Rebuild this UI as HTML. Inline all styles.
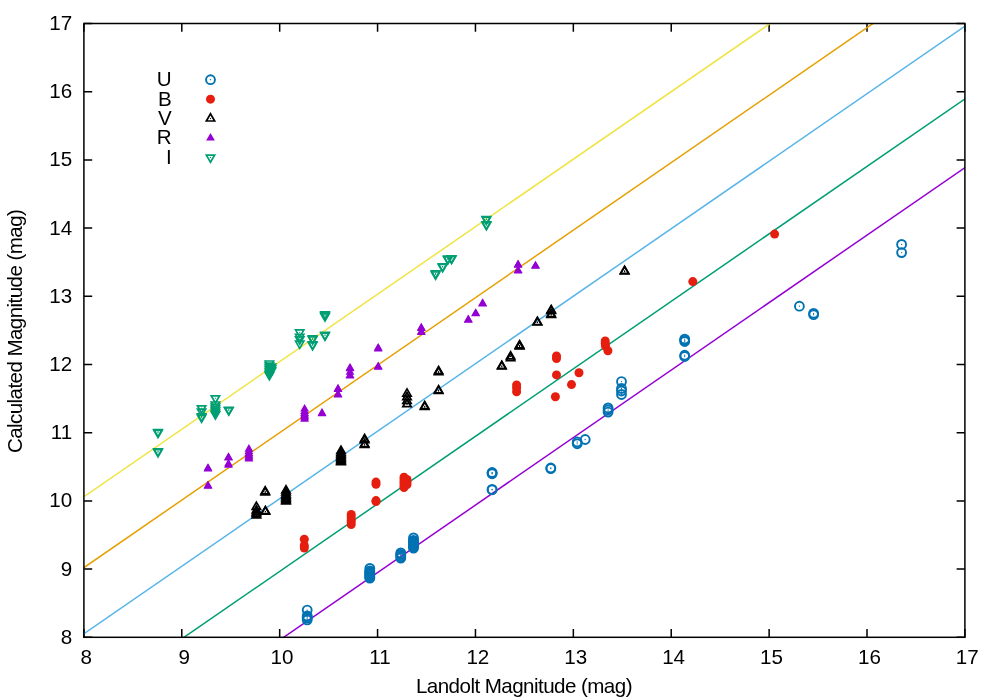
<!DOCTYPE html>
<html><head><meta charset="utf-8"><title>plot</title>
<style>html,body{margin:0;padding:0;background:#fff}svg{display:block}</style></head>
<body>
<svg style="will-change:transform" width="1000" height="700" viewBox="0 0 1000 700">
<rect width="1000" height="700" fill="#fff"/>
<g stroke="#000" stroke-width="1.5" fill="none">
<path d="M83.90,637.3V629.0M83.90,23.5V31.8"/>
<path d="M83.9,637.30H92.2M964.9,637.30H956.6"/>
<path d="M181.79,637.3V629.0M181.79,23.5V31.8"/>
<path d="M83.9,569.10H92.2M964.9,569.10H956.6"/>
<path d="M279.68,637.3V629.0M279.68,23.5V31.8"/>
<path d="M83.9,500.90H92.2M964.9,500.90H956.6"/>
<path d="M377.57,637.3V629.0M377.57,23.5V31.8"/>
<path d="M83.9,432.70H92.2M964.9,432.70H956.6"/>
<path d="M475.46,637.3V629.0M475.46,23.5V31.8"/>
<path d="M83.9,364.50H92.2M964.9,364.50H956.6"/>
<path d="M573.34,637.3V629.0M573.34,23.5V31.8"/>
<path d="M83.9,296.30H92.2M964.9,296.30H956.6"/>
<path d="M671.23,637.3V629.0M671.23,23.5V31.8"/>
<path d="M83.9,228.10H92.2M964.9,228.10H956.6"/>
<path d="M769.12,637.3V629.0M769.12,23.5V31.8"/>
<path d="M83.9,159.90H92.2M964.9,159.90H956.6"/>
<path d="M867.01,637.3V629.0M867.01,23.5V31.8"/>
<path d="M83.9,91.70H92.2M964.9,91.70H956.6"/>
<path d="M964.90,637.3V629.0M964.90,23.5V31.8"/>
<path d="M83.9,23.50H92.2M964.9,23.50H956.6"/>
</g>
<g font-family="Liberation Sans, sans-serif" font-size="20.6px" fill="#000">
<text x="72.2" y="643.70" text-anchor="end">8</text>
<text x="86.30" y="663.6" text-anchor="middle">8</text>
<text x="72.2" y="575.50" text-anchor="end">9</text>
<text x="184.19" y="663.6" text-anchor="middle">9</text>
<text x="72.2" y="507.30" text-anchor="end">10</text>
<text x="282.08" y="663.6" text-anchor="middle">10</text>
<text x="72.2" y="439.10" text-anchor="end">11</text>
<text x="379.97" y="663.6" text-anchor="middle">11</text>
<text x="72.2" y="370.90" text-anchor="end">12</text>
<text x="477.86" y="663.6" text-anchor="middle">12</text>
<text x="72.2" y="302.70" text-anchor="end">13</text>
<text x="575.74" y="663.6" text-anchor="middle">13</text>
<text x="72.2" y="234.50" text-anchor="end">14</text>
<text x="673.63" y="663.6" text-anchor="middle">14</text>
<text x="72.2" y="166.30" text-anchor="end">15</text>
<text x="771.52" y="663.6" text-anchor="middle">15</text>
<text x="72.2" y="98.10" text-anchor="end">16</text>
<text x="869.41" y="663.6" text-anchor="middle">16</text>
<text x="72.2" y="29.90" text-anchor="end">17</text>
<text x="967.30" y="663.6" text-anchor="middle">17</text>
<text x="415.9" y="693.0" textLength="216.6" lengthAdjust="spacing">Landolt Magnitude (mag)</text>
<text transform="translate(21.9,453.1) rotate(-90)" textLength="244.0" lengthAdjust="spacing">Calculated Magnitude (mag)</text>
<text x="171.7" y="86.10" text-anchor="end">U</text>
<text x="171.7" y="105.55" text-anchor="end">B</text>
<text x="171.7" y="125.00" text-anchor="end">V</text>
<text x="171.7" y="144.45" text-anchor="end">R</text>
<text x="171.7" y="163.90" text-anchor="end">I</text>
</g>
<clipPath id="c"><rect x="83.9" y="23.5" width="881.0" height="613.8"/></clipPath>
<g clip-path="url(#c)" stroke-width="1.5" fill="none">
<path d="M78.90,778.51L969.90,164.17" stroke="#9400D3"/>
<path d="M78.90,709.77L969.90,95.42" stroke="#009E73"/>
<path d="M78.90,637.15L969.90,22.80" stroke="#56B4E9"/>
<path d="M78.90,571.05L969.90,-43.30" stroke="#E69F00"/>
<path d="M78.90,500.15L969.90,-114.20" stroke="#F0E442"/>
</g>
<circle cx="210.50" cy="79.70" r="4.45" fill="none" stroke="#0072B2" stroke-width="1.9"/><circle cx="210.50" cy="79.70" r="0.65" fill="#0072B2"/>
<circle cx="307.20" cy="610.10" r="4.45" fill="none" stroke="#0072B2" stroke-width="1.9"/><circle cx="307.20" cy="610.10" r="0.65" fill="#0072B2"/>
<circle cx="307.20" cy="615.90" r="4.45" fill="none" stroke="#0072B2" stroke-width="1.9"/><circle cx="307.20" cy="615.90" r="0.65" fill="#0072B2"/>
<circle cx="307.20" cy="617.00" r="4.45" fill="none" stroke="#0072B2" stroke-width="1.9"/><circle cx="307.20" cy="617.00" r="0.65" fill="#0072B2"/>
<circle cx="307.20" cy="618.20" r="4.45" fill="none" stroke="#0072B2" stroke-width="1.9"/><circle cx="307.20" cy="618.20" r="0.65" fill="#0072B2"/>
<circle cx="307.20" cy="619.90" r="4.45" fill="none" stroke="#0072B2" stroke-width="1.9"/><circle cx="307.20" cy="619.90" r="0.65" fill="#0072B2"/>
<circle cx="369.80" cy="568.40" r="4.45" fill="none" stroke="#0072B2" stroke-width="1.9"/><circle cx="369.80" cy="568.40" r="0.65" fill="#0072B2"/>
<circle cx="369.80" cy="570.80" r="4.45" fill="none" stroke="#0072B2" stroke-width="1.9"/><circle cx="369.80" cy="570.80" r="0.65" fill="#0072B2"/>
<circle cx="369.80" cy="571.70" r="4.45" fill="none" stroke="#0072B2" stroke-width="1.9"/><circle cx="369.80" cy="571.70" r="0.65" fill="#0072B2"/>
<circle cx="369.80" cy="572.70" r="4.45" fill="none" stroke="#0072B2" stroke-width="1.9"/><circle cx="369.80" cy="572.70" r="0.65" fill="#0072B2"/>
<circle cx="369.80" cy="573.90" r="4.45" fill="none" stroke="#0072B2" stroke-width="1.9"/><circle cx="369.80" cy="573.90" r="0.65" fill="#0072B2"/>
<circle cx="369.80" cy="575.10" r="4.45" fill="none" stroke="#0072B2" stroke-width="1.9"/><circle cx="369.80" cy="575.10" r="0.65" fill="#0072B2"/>
<circle cx="369.80" cy="576.30" r="4.45" fill="none" stroke="#0072B2" stroke-width="1.9"/><circle cx="369.80" cy="576.30" r="0.65" fill="#0072B2"/>
<circle cx="369.80" cy="577.40" r="4.45" fill="none" stroke="#0072B2" stroke-width="1.9"/><circle cx="369.80" cy="577.40" r="0.65" fill="#0072B2"/>
<circle cx="369.80" cy="578.10" r="4.45" fill="none" stroke="#0072B2" stroke-width="1.9"/><circle cx="369.80" cy="578.10" r="0.65" fill="#0072B2"/>
<circle cx="400.80" cy="552.90" r="4.45" fill="none" stroke="#0072B2" stroke-width="1.9"/><circle cx="400.80" cy="552.90" r="0.65" fill="#0072B2"/>
<circle cx="400.80" cy="554.30" r="4.45" fill="none" stroke="#0072B2" stroke-width="1.9"/><circle cx="400.80" cy="554.30" r="0.65" fill="#0072B2"/>
<circle cx="400.80" cy="555.50" r="4.45" fill="none" stroke="#0072B2" stroke-width="1.9"/><circle cx="400.80" cy="555.50" r="0.65" fill="#0072B2"/>
<circle cx="400.80" cy="556.80" r="4.45" fill="none" stroke="#0072B2" stroke-width="1.9"/><circle cx="400.80" cy="556.80" r="0.65" fill="#0072B2"/>
<circle cx="400.80" cy="558.10" r="4.45" fill="none" stroke="#0072B2" stroke-width="1.9"/><circle cx="400.80" cy="558.10" r="0.65" fill="#0072B2"/>
<circle cx="413.50" cy="537.90" r="4.45" fill="none" stroke="#0072B2" stroke-width="1.9"/><circle cx="413.50" cy="537.90" r="0.65" fill="#0072B2"/>
<circle cx="413.50" cy="540.30" r="4.45" fill="none" stroke="#0072B2" stroke-width="1.9"/><circle cx="413.50" cy="540.30" r="0.65" fill="#0072B2"/>
<circle cx="413.50" cy="541.20" r="4.45" fill="none" stroke="#0072B2" stroke-width="1.9"/><circle cx="413.50" cy="541.20" r="0.65" fill="#0072B2"/>
<circle cx="413.50" cy="542.20" r="4.45" fill="none" stroke="#0072B2" stroke-width="1.9"/><circle cx="413.50" cy="542.20" r="0.65" fill="#0072B2"/>
<circle cx="413.50" cy="543.40" r="4.45" fill="none" stroke="#0072B2" stroke-width="1.9"/><circle cx="413.50" cy="543.40" r="0.65" fill="#0072B2"/>
<circle cx="413.50" cy="544.60" r="4.45" fill="none" stroke="#0072B2" stroke-width="1.9"/><circle cx="413.50" cy="544.60" r="0.65" fill="#0072B2"/>
<circle cx="413.50" cy="545.80" r="4.45" fill="none" stroke="#0072B2" stroke-width="1.9"/><circle cx="413.50" cy="545.80" r="0.65" fill="#0072B2"/>
<circle cx="413.50" cy="547.00" r="4.45" fill="none" stroke="#0072B2" stroke-width="1.9"/><circle cx="413.50" cy="547.00" r="0.65" fill="#0072B2"/>
<circle cx="413.50" cy="548.10" r="4.45" fill="none" stroke="#0072B2" stroke-width="1.9"/><circle cx="413.50" cy="548.10" r="0.65" fill="#0072B2"/>
<circle cx="492.10" cy="472.45" r="4.45" fill="none" stroke="#0072B2" stroke-width="1.9"/><circle cx="492.10" cy="472.45" r="0.65" fill="#0072B2"/>
<circle cx="492.10" cy="473.10" r="4.45" fill="none" stroke="#0072B2" stroke-width="1.9"/><circle cx="492.10" cy="473.10" r="0.65" fill="#0072B2"/>
<circle cx="492.10" cy="473.75" r="4.45" fill="none" stroke="#0072B2" stroke-width="1.9"/><circle cx="492.10" cy="473.75" r="0.65" fill="#0072B2"/>
<circle cx="492.10" cy="489.40" r="4.45" fill="none" stroke="#0072B2" stroke-width="1.9"/><circle cx="492.10" cy="489.40" r="0.65" fill="#0072B2"/>
<circle cx="492.10" cy="489.80" r="4.45" fill="none" stroke="#0072B2" stroke-width="1.9"/><circle cx="492.10" cy="489.80" r="0.65" fill="#0072B2"/>
<circle cx="550.80" cy="468.00" r="4.45" fill="none" stroke="#0072B2" stroke-width="1.9"/><circle cx="550.80" cy="468.00" r="0.65" fill="#0072B2"/>
<circle cx="550.80" cy="468.60" r="4.45" fill="none" stroke="#0072B2" stroke-width="1.9"/><circle cx="550.80" cy="468.60" r="0.65" fill="#0072B2"/>
<circle cx="577.20" cy="442.00" r="4.45" fill="none" stroke="#0072B2" stroke-width="1.9"/><circle cx="577.20" cy="442.00" r="0.65" fill="#0072B2"/>
<circle cx="577.20" cy="443.80" r="4.45" fill="none" stroke="#0072B2" stroke-width="1.9"/><circle cx="577.20" cy="443.80" r="0.65" fill="#0072B2"/>
<circle cx="585.20" cy="439.50" r="4.45" fill="none" stroke="#0072B2" stroke-width="1.9"/><circle cx="585.20" cy="439.50" r="0.65" fill="#0072B2"/>
<circle cx="608.10" cy="407.90" r="4.45" fill="none" stroke="#0072B2" stroke-width="1.9"/><circle cx="608.10" cy="407.90" r="0.65" fill="#0072B2"/>
<circle cx="608.10" cy="410.00" r="4.45" fill="none" stroke="#0072B2" stroke-width="1.9"/><circle cx="608.10" cy="410.00" r="0.65" fill="#0072B2"/>
<circle cx="608.10" cy="412.10" r="4.45" fill="none" stroke="#0072B2" stroke-width="1.9"/><circle cx="608.10" cy="412.10" r="0.65" fill="#0072B2"/>
<circle cx="621.50" cy="381.60" r="4.45" fill="none" stroke="#0072B2" stroke-width="1.9"/><circle cx="621.50" cy="381.60" r="0.65" fill="#0072B2"/>
<circle cx="621.50" cy="388.50" r="4.45" fill="none" stroke="#0072B2" stroke-width="1.9"/><circle cx="621.50" cy="388.50" r="0.65" fill="#0072B2"/>
<circle cx="621.50" cy="391.00" r="4.45" fill="none" stroke="#0072B2" stroke-width="1.9"/><circle cx="621.50" cy="391.00" r="0.65" fill="#0072B2"/>
<circle cx="621.50" cy="394.50" r="4.45" fill="none" stroke="#0072B2" stroke-width="1.9"/><circle cx="621.50" cy="394.50" r="0.65" fill="#0072B2"/>
<circle cx="684.70" cy="339.05" r="4.45" fill="none" stroke="#0072B2" stroke-width="1.9"/><circle cx="684.70" cy="339.05" r="0.65" fill="#0072B2"/>
<circle cx="684.70" cy="340.30" r="4.45" fill="none" stroke="#0072B2" stroke-width="1.9"/><circle cx="684.70" cy="340.30" r="0.65" fill="#0072B2"/>
<circle cx="684.70" cy="341.55" r="4.45" fill="none" stroke="#0072B2" stroke-width="1.9"/><circle cx="684.70" cy="341.55" r="0.65" fill="#0072B2"/>
<circle cx="684.70" cy="355.25" r="4.45" fill="none" stroke="#0072B2" stroke-width="1.9"/><circle cx="684.70" cy="355.25" r="0.65" fill="#0072B2"/>
<circle cx="684.70" cy="356.55" r="4.45" fill="none" stroke="#0072B2" stroke-width="1.9"/><circle cx="684.70" cy="356.55" r="0.65" fill="#0072B2"/>
<circle cx="799.40" cy="306.20" r="4.45" fill="none" stroke="#0072B2" stroke-width="1.9"/><circle cx="799.40" cy="306.20" r="0.65" fill="#0072B2"/>
<circle cx="813.60" cy="313.30" r="4.45" fill="none" stroke="#0072B2" stroke-width="1.9"/><circle cx="813.60" cy="313.30" r="0.65" fill="#0072B2"/>
<circle cx="813.60" cy="314.70" r="4.45" fill="none" stroke="#0072B2" stroke-width="1.9"/><circle cx="813.60" cy="314.70" r="0.65" fill="#0072B2"/>
<circle cx="901.60" cy="244.40" r="4.45" fill="none" stroke="#0072B2" stroke-width="1.9"/><circle cx="901.60" cy="244.40" r="0.65" fill="#0072B2"/>
<circle cx="901.60" cy="252.60" r="4.45" fill="none" stroke="#0072B2" stroke-width="1.9"/><circle cx="901.60" cy="252.60" r="0.65" fill="#0072B2"/>
<circle cx="210.50" cy="99.15" r="4.5" fill="#E51E10"/>
<circle cx="304.30" cy="539.20" r="4.5" fill="#E51E10"/>
<circle cx="304.30" cy="545.50" r="4.5" fill="#E51E10"/>
<circle cx="304.30" cy="548.00" r="4.5" fill="#E51E10"/>
<circle cx="351.20" cy="514.40" r="4.5" fill="#E51E10"/>
<circle cx="351.20" cy="517.00" r="4.5" fill="#E51E10"/>
<circle cx="351.20" cy="520.00" r="4.5" fill="#E51E10"/>
<circle cx="351.20" cy="522.00" r="4.5" fill="#E51E10"/>
<circle cx="351.20" cy="524.60" r="4.5" fill="#E51E10"/>
<circle cx="376.00" cy="482.10" r="4.5" fill="#E51E10"/>
<circle cx="376.00" cy="484.30" r="4.5" fill="#E51E10"/>
<circle cx="376.00" cy="500.60" r="4.5" fill="#E51E10"/>
<circle cx="376.00" cy="501.60" r="4.5" fill="#E51E10"/>
<circle cx="404.00" cy="477.30" r="4.5" fill="#E51E10"/>
<circle cx="404.00" cy="480.00" r="4.5" fill="#E51E10"/>
<circle cx="404.00" cy="482.50" r="4.5" fill="#E51E10"/>
<circle cx="404.00" cy="485.00" r="4.5" fill="#E51E10"/>
<circle cx="404.00" cy="487.50" r="4.5" fill="#E51E10"/>
<circle cx="407.00" cy="479.50" r="4.5" fill="#E51E10"/>
<circle cx="407.00" cy="482.00" r="4.5" fill="#E51E10"/>
<circle cx="407.00" cy="484.50" r="4.5" fill="#E51E10"/>
<circle cx="516.60" cy="384.90" r="4.5" fill="#E51E10"/>
<circle cx="516.60" cy="388.00" r="4.5" fill="#E51E10"/>
<circle cx="516.60" cy="391.70" r="4.5" fill="#E51E10"/>
<circle cx="556.50" cy="356.00" r="4.5" fill="#E51E10"/>
<circle cx="556.50" cy="358.50" r="4.5" fill="#E51E10"/>
<circle cx="556.50" cy="374.90" r="4.5" fill="#E51E10"/>
<circle cx="555.40" cy="396.80" r="4.5" fill="#E51E10"/>
<circle cx="571.50" cy="384.60" r="4.5" fill="#E51E10"/>
<circle cx="579.00" cy="372.80" r="4.5" fill="#E51E10"/>
<circle cx="605.20" cy="340.90" r="4.5" fill="#E51E10"/>
<circle cx="605.20" cy="343.50" r="4.5" fill="#E51E10"/>
<circle cx="605.50" cy="346.00" r="4.5" fill="#E51E10"/>
<circle cx="607.90" cy="350.80" r="4.5" fill="#E51E10"/>
<circle cx="692.80" cy="281.60" r="4.5" fill="#E51E10"/>
<circle cx="774.60" cy="234.10" r="4.5" fill="#E51E10"/>
<path d="M206.34,121.00L214.66,121.00L210.50,113.80Z" fill="none" stroke="#000" stroke-width="1.7"/><circle cx="210.50" cy="118.60" r="0.65" fill="#000"/>
<path d="M261.04,493.90L269.36,493.90L265.20,486.70Z" fill="none" stroke="#000" stroke-width="1.7"/><circle cx="265.20" cy="491.50" r="0.65" fill="#000"/>
<path d="M261.04,494.90L269.36,494.90L265.20,487.70Z" fill="none" stroke="#000" stroke-width="1.7"/><circle cx="265.20" cy="492.50" r="0.65" fill="#000"/>
<path d="M252.24,509.30L260.56,509.30L256.40,502.10Z" fill="none" stroke="#000" stroke-width="1.7"/><circle cx="256.40" cy="506.90" r="0.65" fill="#000"/>
<path d="M252.24,512.90L260.56,512.90L256.40,505.70Z" fill="none" stroke="#000" stroke-width="1.7"/><circle cx="256.40" cy="510.50" r="0.65" fill="#000"/>
<path d="M252.24,514.90L260.56,514.90L256.40,507.70Z" fill="none" stroke="#000" stroke-width="1.7"/><circle cx="256.40" cy="512.50" r="0.65" fill="#000"/>
<path d="M252.24,516.40L260.56,516.40L256.40,509.20Z" fill="none" stroke="#000" stroke-width="1.7"/><circle cx="256.40" cy="514.00" r="0.65" fill="#000"/>
<path d="M252.24,517.90L260.56,517.90L256.40,510.70Z" fill="none" stroke="#000" stroke-width="1.7"/><circle cx="256.40" cy="515.50" r="0.65" fill="#000"/>
<path d="M261.24,513.70L269.56,513.70L265.40,506.50Z" fill="none" stroke="#000" stroke-width="1.7"/><circle cx="265.40" cy="511.30" r="0.65" fill="#000"/>
<path d="M261.24,514.20L269.56,514.20L265.40,507.00Z" fill="none" stroke="#000" stroke-width="1.7"/><circle cx="265.40" cy="511.80" r="0.65" fill="#000"/>
<path d="M281.84,492.80L290.16,492.80L286.00,485.60Z" fill="none" stroke="#000" stroke-width="1.7"/><circle cx="286.00" cy="490.40" r="0.65" fill="#000"/>
<path d="M281.84,494.90L290.16,494.90L286.00,487.70Z" fill="none" stroke="#000" stroke-width="1.7"/><circle cx="286.00" cy="492.50" r="0.65" fill="#000"/>
<path d="M281.84,496.90L290.16,496.90L286.00,489.70Z" fill="none" stroke="#000" stroke-width="1.7"/><circle cx="286.00" cy="494.50" r="0.65" fill="#000"/>
<path d="M281.84,498.40L290.16,498.40L286.00,491.20Z" fill="none" stroke="#000" stroke-width="1.7"/><circle cx="286.00" cy="496.00" r="0.65" fill="#000"/>
<path d="M281.84,499.90L290.16,499.90L286.00,492.70Z" fill="none" stroke="#000" stroke-width="1.7"/><circle cx="286.00" cy="497.50" r="0.65" fill="#000"/>
<path d="M281.84,501.40L290.16,501.40L286.00,494.20Z" fill="none" stroke="#000" stroke-width="1.7"/><circle cx="286.00" cy="499.00" r="0.65" fill="#000"/>
<path d="M281.84,502.70L290.16,502.70L286.00,495.50Z" fill="none" stroke="#000" stroke-width="1.7"/><circle cx="286.00" cy="500.30" r="0.65" fill="#000"/>
<path d="M281.84,503.90L290.16,503.90L286.00,496.70Z" fill="none" stroke="#000" stroke-width="1.7"/><circle cx="286.00" cy="501.50" r="0.65" fill="#000"/>
<path d="M336.84,453.50L345.16,453.50L341.00,446.30Z" fill="none" stroke="#000" stroke-width="1.7"/><circle cx="341.00" cy="451.10" r="0.65" fill="#000"/>
<path d="M336.84,455.40L345.16,455.40L341.00,448.20Z" fill="none" stroke="#000" stroke-width="1.7"/><circle cx="341.00" cy="453.00" r="0.65" fill="#000"/>
<path d="M336.84,456.90L345.16,456.90L341.00,449.70Z" fill="none" stroke="#000" stroke-width="1.7"/><circle cx="341.00" cy="454.50" r="0.65" fill="#000"/>
<path d="M336.84,458.40L345.16,458.40L341.00,451.20Z" fill="none" stroke="#000" stroke-width="1.7"/><circle cx="341.00" cy="456.00" r="0.65" fill="#000"/>
<path d="M336.84,459.90L345.16,459.90L341.00,452.70Z" fill="none" stroke="#000" stroke-width="1.7"/><circle cx="341.00" cy="457.50" r="0.65" fill="#000"/>
<path d="M336.84,461.40L345.16,461.40L341.00,454.20Z" fill="none" stroke="#000" stroke-width="1.7"/><circle cx="341.00" cy="459.00" r="0.65" fill="#000"/>
<path d="M336.84,462.70L345.16,462.70L341.00,455.50Z" fill="none" stroke="#000" stroke-width="1.7"/><circle cx="341.00" cy="460.30" r="0.65" fill="#000"/>
<path d="M336.84,463.90L345.16,463.90L341.00,456.70Z" fill="none" stroke="#000" stroke-width="1.7"/><circle cx="341.00" cy="461.50" r="0.65" fill="#000"/>
<path d="M336.84,464.70L345.16,464.70L341.00,457.50Z" fill="none" stroke="#000" stroke-width="1.7"/><circle cx="341.00" cy="462.30" r="0.65" fill="#000"/>
<path d="M360.44,441.70L368.76,441.70L364.60,434.50Z" fill="none" stroke="#000" stroke-width="1.7"/><circle cx="364.60" cy="439.30" r="0.65" fill="#000"/>
<path d="M360.44,442.70L368.76,442.70L364.60,435.50Z" fill="none" stroke="#000" stroke-width="1.7"/><circle cx="364.60" cy="440.30" r="0.65" fill="#000"/>
<path d="M360.44,446.60L368.76,446.60L364.60,439.40Z" fill="none" stroke="#000" stroke-width="1.7"/><circle cx="364.60" cy="444.20" r="0.65" fill="#000"/>
<path d="M360.44,447.40L368.76,447.40L364.60,440.20Z" fill="none" stroke="#000" stroke-width="1.7"/><circle cx="364.60" cy="445.00" r="0.65" fill="#000"/>
<path d="M402.84,396.10L411.16,396.10L407.00,388.90Z" fill="none" stroke="#000" stroke-width="1.7"/><circle cx="407.00" cy="393.70" r="0.65" fill="#000"/>
<path d="M402.84,399.70L411.16,399.70L407.00,392.50Z" fill="none" stroke="#000" stroke-width="1.7"/><circle cx="407.00" cy="397.30" r="0.65" fill="#000"/>
<path d="M402.84,403.40L411.16,403.40L407.00,396.20Z" fill="none" stroke="#000" stroke-width="1.7"/><circle cx="407.00" cy="401.00" r="0.65" fill="#000"/>
<path d="M402.84,406.70L411.16,406.70L407.00,399.50Z" fill="none" stroke="#000" stroke-width="1.7"/><circle cx="407.00" cy="404.30" r="0.65" fill="#000"/>
<path d="M420.54,408.70L428.86,408.70L424.70,401.50Z" fill="none" stroke="#000" stroke-width="1.7"/><circle cx="424.70" cy="406.30" r="0.65" fill="#000"/>
<path d="M420.54,409.40L428.86,409.40L424.70,402.20Z" fill="none" stroke="#000" stroke-width="1.7"/><circle cx="424.70" cy="407.00" r="0.65" fill="#000"/>
<path d="M434.44,373.70L442.76,373.70L438.60,366.50Z" fill="none" stroke="#000" stroke-width="1.7"/><circle cx="438.60" cy="371.30" r="0.65" fill="#000"/>
<path d="M434.44,374.70L442.76,374.70L438.60,367.50Z" fill="none" stroke="#000" stroke-width="1.7"/><circle cx="438.60" cy="372.30" r="0.65" fill="#000"/>
<path d="M434.44,392.90L442.76,392.90L438.60,385.70Z" fill="none" stroke="#000" stroke-width="1.7"/><circle cx="438.60" cy="390.50" r="0.65" fill="#000"/>
<path d="M434.44,393.40L442.76,393.40L438.60,386.20Z" fill="none" stroke="#000" stroke-width="1.7"/><circle cx="438.60" cy="391.00" r="0.65" fill="#000"/>
<path d="M497.64,368.40L505.96,368.40L501.80,361.20Z" fill="none" stroke="#000" stroke-width="1.7"/><circle cx="501.80" cy="366.00" r="0.65" fill="#000"/>
<path d="M497.64,369.00L505.96,369.00L501.80,361.80Z" fill="none" stroke="#000" stroke-width="1.7"/><circle cx="501.80" cy="366.60" r="0.65" fill="#000"/>
<path d="M506.44,358.80L514.76,358.80L510.60,351.60Z" fill="none" stroke="#000" stroke-width="1.7"/><circle cx="510.60" cy="356.40" r="0.65" fill="#000"/>
<path d="M506.44,360.70L514.76,360.70L510.60,353.50Z" fill="none" stroke="#000" stroke-width="1.7"/><circle cx="510.60" cy="358.30" r="0.65" fill="#000"/>
<path d="M515.44,347.80L523.76,347.80L519.60,340.60Z" fill="none" stroke="#000" stroke-width="1.7"/><circle cx="519.60" cy="345.40" r="0.65" fill="#000"/>
<path d="M515.44,348.40L523.76,348.40L519.60,341.20Z" fill="none" stroke="#000" stroke-width="1.7"/><circle cx="519.60" cy="346.00" r="0.65" fill="#000"/>
<path d="M515.44,349.00L523.76,349.00L519.60,341.80Z" fill="none" stroke="#000" stroke-width="1.7"/><circle cx="519.60" cy="346.60" r="0.65" fill="#000"/>
<path d="M533.24,324.50L541.56,324.50L537.40,317.30Z" fill="none" stroke="#000" stroke-width="1.7"/><circle cx="537.40" cy="322.10" r="0.65" fill="#000"/>
<path d="M533.24,325.00L541.56,325.00L537.40,317.80Z" fill="none" stroke="#000" stroke-width="1.7"/><circle cx="537.40" cy="322.60" r="0.65" fill="#000"/>
<path d="M547.04,312.60L555.36,312.60L551.20,305.40Z" fill="none" stroke="#000" stroke-width="1.7"/><circle cx="551.20" cy="310.20" r="0.65" fill="#000"/>
<path d="M547.04,313.40L555.36,313.40L551.20,306.20Z" fill="none" stroke="#000" stroke-width="1.7"/><circle cx="551.20" cy="311.00" r="0.65" fill="#000"/>
<path d="M547.04,316.70L555.36,316.70L551.20,309.50Z" fill="none" stroke="#000" stroke-width="1.7"/><circle cx="551.20" cy="314.30" r="0.65" fill="#000"/>
<path d="M547.04,317.40L555.36,317.40L551.20,310.20Z" fill="none" stroke="#000" stroke-width="1.7"/><circle cx="551.20" cy="315.00" r="0.65" fill="#000"/>
<path d="M620.44,273.40L628.76,273.40L624.60,266.20Z" fill="none" stroke="#000" stroke-width="1.7"/><circle cx="624.60" cy="271.00" r="0.65" fill="#000"/>
<path d="M620.44,273.90L628.76,273.90L624.60,266.70Z" fill="none" stroke="#000" stroke-width="1.7"/><circle cx="624.60" cy="271.50" r="0.65" fill="#000"/>
<path d="M206.11,140.59L214.89,140.59L210.50,132.98Z" fill="#9400D3"/>
<path d="M203.61,470.74L212.39,470.74L208.00,463.13Z" fill="#9400D3"/>
<path d="M203.61,471.44L212.39,471.44L208.00,463.83Z" fill="#9400D3"/>
<path d="M203.61,488.14L212.39,488.14L208.00,480.53Z" fill="#9400D3"/>
<path d="M203.61,488.64L212.39,488.64L208.00,481.03Z" fill="#9400D3"/>
<path d="M224.11,459.94L232.89,459.94L228.50,452.33Z" fill="#9400D3"/>
<path d="M224.11,460.44L232.89,460.44L228.50,452.83Z" fill="#9400D3"/>
<path d="M224.11,466.44L232.89,466.44L228.50,458.83Z" fill="#9400D3"/>
<path d="M224.11,467.64L232.89,467.64L228.50,460.03Z" fill="#9400D3"/>
<path d="M244.51,451.64L253.29,451.64L248.90,444.03Z" fill="#9400D3"/>
<path d="M244.51,454.04L253.29,454.04L248.90,446.43Z" fill="#9400D3"/>
<path d="M244.51,456.04L253.29,456.04L248.90,448.43Z" fill="#9400D3"/>
<path d="M244.51,457.54L253.29,457.54L248.90,449.93Z" fill="#9400D3"/>
<path d="M244.51,458.84L253.29,458.84L248.90,451.23Z" fill="#9400D3"/>
<path d="M244.51,460.14L253.29,460.14L248.90,452.53Z" fill="#9400D3"/>
<path d="M244.51,461.44L253.29,461.44L248.90,453.83Z" fill="#9400D3"/>
<path d="M300.21,411.54L308.99,411.54L304.60,403.93Z" fill="#9400D3"/>
<path d="M300.21,414.04L308.99,414.04L304.60,406.43Z" fill="#9400D3"/>
<path d="M300.21,416.04L308.99,416.04L304.60,408.43Z" fill="#9400D3"/>
<path d="M300.21,417.54L308.99,417.54L304.60,409.93Z" fill="#9400D3"/>
<path d="M300.21,418.84L308.99,418.84L304.60,411.23Z" fill="#9400D3"/>
<path d="M300.21,420.14L308.99,420.14L304.60,412.53Z" fill="#9400D3"/>
<path d="M300.21,421.64L308.99,421.64L304.60,414.03Z" fill="#9400D3"/>
<path d="M317.61,415.64L326.39,415.64L322.00,408.03Z" fill="#9400D3"/>
<path d="M317.61,416.14L326.39,416.14L322.00,408.53Z" fill="#9400D3"/>
<path d="M333.61,391.44L342.39,391.44L338.00,383.83Z" fill="#9400D3"/>
<path d="M333.61,391.94L342.39,391.94L338.00,384.33Z" fill="#9400D3"/>
<path d="M333.61,397.04L342.39,397.04L338.00,389.43Z" fill="#9400D3"/>
<path d="M333.61,397.54L342.39,397.54L338.00,389.93Z" fill="#9400D3"/>
<path d="M345.61,370.54L354.39,370.54L350.00,362.93Z" fill="#9400D3"/>
<path d="M345.61,371.14L354.39,371.14L350.00,363.53Z" fill="#9400D3"/>
<path d="M345.61,374.84L354.39,374.84L350.00,367.23Z" fill="#9400D3"/>
<path d="M345.61,378.04L354.39,378.04L350.00,370.43Z" fill="#9400D3"/>
<path d="M345.61,378.54L354.39,378.54L350.00,370.93Z" fill="#9400D3"/>
<path d="M373.81,350.54L382.59,350.54L378.20,342.93Z" fill="#9400D3"/>
<path d="M373.81,351.44L382.59,351.44L378.20,343.83Z" fill="#9400D3"/>
<path d="M373.81,369.14L382.59,369.14L378.20,361.53Z" fill="#9400D3"/>
<path d="M373.81,369.64L382.59,369.64L378.20,362.03Z" fill="#9400D3"/>
<path d="M416.91,330.44L425.69,330.44L421.30,322.83Z" fill="#9400D3"/>
<path d="M416.91,330.94L425.69,330.94L421.30,323.33Z" fill="#9400D3"/>
<path d="M416.91,334.44L425.69,334.44L421.30,326.83Z" fill="#9400D3"/>
<path d="M416.91,334.94L425.69,334.94L421.30,327.33Z" fill="#9400D3"/>
<path d="M463.91,322.14L472.69,322.14L468.30,314.53Z" fill="#9400D3"/>
<path d="M463.91,322.64L472.69,322.64L468.30,315.03Z" fill="#9400D3"/>
<path d="M471.31,315.74L480.09,315.74L475.70,308.13Z" fill="#9400D3"/>
<path d="M471.31,316.24L480.09,316.24L475.70,308.63Z" fill="#9400D3"/>
<path d="M478.21,305.94L486.99,305.94L482.60,298.33Z" fill="#9400D3"/>
<path d="M478.21,306.44L486.99,306.44L482.60,298.83Z" fill="#9400D3"/>
<path d="M513.71,267.14L522.49,267.14L518.10,259.53Z" fill="#9400D3"/>
<path d="M513.71,267.64L522.49,267.64L518.10,260.03Z" fill="#9400D3"/>
<path d="M513.71,273.04L522.49,273.04L518.10,265.43Z" fill="#9400D3"/>
<path d="M513.71,273.54L522.49,273.54L518.10,265.93Z" fill="#9400D3"/>
<path d="M531.11,268.34L539.89,268.34L535.50,260.73Z" fill="#9400D3"/>
<path d="M531.11,268.84L539.89,268.84L535.50,261.23Z" fill="#9400D3"/>
<path d="M206.34,155.10L214.66,155.10L210.50,162.30Z" fill="none" stroke="#009E73" stroke-width="1.7"/><circle cx="210.50" cy="157.50" r="0.65" fill="#009E73"/>
<path d="M153.84,429.50L162.16,429.50L158.00,436.70Z" fill="none" stroke="#009E73" stroke-width="1.7"/><circle cx="158.00" cy="431.90" r="0.65" fill="#009E73"/>
<path d="M153.84,430.40L162.16,430.40L158.00,437.60Z" fill="none" stroke="#009E73" stroke-width="1.7"/><circle cx="158.00" cy="432.80" r="0.65" fill="#009E73"/>
<path d="M153.84,448.90L162.16,448.90L158.00,456.10Z" fill="none" stroke="#009E73" stroke-width="1.7"/><circle cx="158.00" cy="451.30" r="0.65" fill="#009E73"/>
<path d="M153.84,449.60L162.16,449.60L158.00,456.80Z" fill="none" stroke="#009E73" stroke-width="1.7"/><circle cx="158.00" cy="452.00" r="0.65" fill="#009E73"/>
<path d="M197.44,405.80L205.76,405.80L201.60,413.00Z" fill="none" stroke="#009E73" stroke-width="1.7"/><circle cx="201.60" cy="408.20" r="0.65" fill="#009E73"/>
<path d="M197.44,409.20L205.76,409.20L201.60,416.40Z" fill="none" stroke="#009E73" stroke-width="1.7"/><circle cx="201.60" cy="411.60" r="0.65" fill="#009E73"/>
<path d="M197.44,413.90L205.76,413.90L201.60,421.10Z" fill="none" stroke="#009E73" stroke-width="1.7"/><circle cx="201.60" cy="416.30" r="0.65" fill="#009E73"/>
<path d="M197.44,415.20L205.76,415.20L201.60,422.40Z" fill="none" stroke="#009E73" stroke-width="1.7"/><circle cx="201.60" cy="417.60" r="0.65" fill="#009E73"/>
<path d="M211.24,395.80L219.56,395.80L215.40,403.00Z" fill="none" stroke="#009E73" stroke-width="1.7"/><circle cx="215.40" cy="398.20" r="0.65" fill="#009E73"/>
<path d="M211.24,402.00L219.56,402.00L215.40,409.20Z" fill="none" stroke="#009E73" stroke-width="1.7"/><circle cx="215.40" cy="404.40" r="0.65" fill="#009E73"/>
<path d="M211.24,404.10L219.56,404.10L215.40,411.30Z" fill="none" stroke="#009E73" stroke-width="1.7"/><circle cx="215.40" cy="406.50" r="0.65" fill="#009E73"/>
<path d="M211.24,406.10L219.56,406.10L215.40,413.30Z" fill="none" stroke="#009E73" stroke-width="1.7"/><circle cx="215.40" cy="408.50" r="0.65" fill="#009E73"/>
<path d="M211.24,408.10L219.56,408.10L215.40,415.30Z" fill="none" stroke="#009E73" stroke-width="1.7"/><circle cx="215.40" cy="410.50" r="0.65" fill="#009E73"/>
<path d="M211.24,410.10L219.56,410.10L215.40,417.30Z" fill="none" stroke="#009E73" stroke-width="1.7"/><circle cx="215.40" cy="412.50" r="0.65" fill="#009E73"/>
<path d="M211.24,411.80L219.56,411.80L215.40,419.00Z" fill="none" stroke="#009E73" stroke-width="1.7"/><circle cx="215.40" cy="414.20" r="0.65" fill="#009E73"/>
<path d="M224.64,407.30L232.96,407.30L228.80,414.50Z" fill="none" stroke="#009E73" stroke-width="1.7"/><circle cx="228.80" cy="409.70" r="0.65" fill="#009E73"/>
<path d="M224.64,407.90L232.96,407.90L228.80,415.10Z" fill="none" stroke="#009E73" stroke-width="1.7"/><circle cx="228.80" cy="410.30" r="0.65" fill="#009E73"/>
<path d="M265.24,361.00L273.56,361.00L269.40,368.20Z" fill="none" stroke="#009E73" stroke-width="1.7"/><circle cx="269.40" cy="363.40" r="0.65" fill="#009E73"/>
<path d="M265.24,363.10L273.56,363.10L269.40,370.30Z" fill="none" stroke="#009E73" stroke-width="1.7"/><circle cx="269.40" cy="365.50" r="0.65" fill="#009E73"/>
<path d="M265.24,365.10L273.56,365.10L269.40,372.30Z" fill="none" stroke="#009E73" stroke-width="1.7"/><circle cx="269.40" cy="367.50" r="0.65" fill="#009E73"/>
<path d="M265.24,367.10L273.56,367.10L269.40,374.30Z" fill="none" stroke="#009E73" stroke-width="1.7"/><circle cx="269.40" cy="369.50" r="0.65" fill="#009E73"/>
<path d="M265.24,369.10L273.56,369.10L269.40,376.30Z" fill="none" stroke="#009E73" stroke-width="1.7"/><circle cx="269.40" cy="371.50" r="0.65" fill="#009E73"/>
<path d="M265.24,371.10L273.56,371.10L269.40,378.30Z" fill="none" stroke="#009E73" stroke-width="1.7"/><circle cx="269.40" cy="373.50" r="0.65" fill="#009E73"/>
<path d="M265.24,372.70L273.56,372.70L269.40,379.90Z" fill="none" stroke="#009E73" stroke-width="1.7"/><circle cx="269.40" cy="375.10" r="0.65" fill="#009E73"/>
<path d="M267.34,364.10L275.66,364.10L271.50,371.30Z" fill="none" stroke="#009E73" stroke-width="1.7"/><circle cx="271.50" cy="366.50" r="0.65" fill="#009E73"/>
<path d="M267.34,366.10L275.66,366.10L271.50,373.30Z" fill="none" stroke="#009E73" stroke-width="1.7"/><circle cx="271.50" cy="368.50" r="0.65" fill="#009E73"/>
<path d="M267.34,368.10L275.66,368.10L271.50,375.30Z" fill="none" stroke="#009E73" stroke-width="1.7"/><circle cx="271.50" cy="370.50" r="0.65" fill="#009E73"/>
<path d="M295.54,329.90L303.86,329.90L299.70,337.10Z" fill="none" stroke="#009E73" stroke-width="1.7"/><circle cx="299.70" cy="332.30" r="0.65" fill="#009E73"/>
<path d="M295.54,334.40L303.86,334.40L299.70,341.60Z" fill="none" stroke="#009E73" stroke-width="1.7"/><circle cx="299.70" cy="336.80" r="0.65" fill="#009E73"/>
<path d="M295.54,336.90L303.86,336.90L299.70,344.10Z" fill="none" stroke="#009E73" stroke-width="1.7"/><circle cx="299.70" cy="339.30" r="0.65" fill="#009E73"/>
<path d="M295.54,341.20L303.86,341.20L299.70,348.40Z" fill="none" stroke="#009E73" stroke-width="1.7"/><circle cx="299.70" cy="343.60" r="0.65" fill="#009E73"/>
<path d="M308.44,335.90L316.76,335.90L312.60,343.10Z" fill="none" stroke="#009E73" stroke-width="1.7"/><circle cx="312.60" cy="338.30" r="0.65" fill="#009E73"/>
<path d="M308.44,336.90L316.76,336.90L312.60,344.10Z" fill="none" stroke="#009E73" stroke-width="1.7"/><circle cx="312.60" cy="339.30" r="0.65" fill="#009E73"/>
<path d="M308.44,341.90L316.76,341.90L312.60,349.10Z" fill="none" stroke="#009E73" stroke-width="1.7"/><circle cx="312.60" cy="344.30" r="0.65" fill="#009E73"/>
<path d="M308.44,342.70L316.76,342.70L312.60,349.90Z" fill="none" stroke="#009E73" stroke-width="1.7"/><circle cx="312.60" cy="345.10" r="0.65" fill="#009E73"/>
<path d="M320.84,311.80L329.16,311.80L325.00,319.00Z" fill="none" stroke="#009E73" stroke-width="1.7"/><circle cx="325.00" cy="314.20" r="0.65" fill="#009E73"/>
<path d="M320.84,312.90L329.16,312.90L325.00,320.10Z" fill="none" stroke="#009E73" stroke-width="1.7"/><circle cx="325.00" cy="315.30" r="0.65" fill="#009E73"/>
<path d="M320.84,313.90L329.16,313.90L325.00,321.10Z" fill="none" stroke="#009E73" stroke-width="1.7"/><circle cx="325.00" cy="316.30" r="0.65" fill="#009E73"/>
<path d="M320.84,332.40L329.16,332.40L325.00,339.60Z" fill="none" stroke="#009E73" stroke-width="1.7"/><circle cx="325.00" cy="334.80" r="0.65" fill="#009E73"/>
<path d="M320.84,333.20L329.16,333.20L325.00,340.40Z" fill="none" stroke="#009E73" stroke-width="1.7"/><circle cx="325.00" cy="335.60" r="0.65" fill="#009E73"/>
<path d="M431.44,270.90L439.76,270.90L435.60,278.10Z" fill="none" stroke="#009E73" stroke-width="1.7"/><circle cx="435.60" cy="273.30" r="0.65" fill="#009E73"/>
<path d="M431.44,272.00L439.76,272.00L435.60,279.20Z" fill="none" stroke="#009E73" stroke-width="1.7"/><circle cx="435.60" cy="274.40" r="0.65" fill="#009E73"/>
<path d="M438.44,263.90L446.76,263.90L442.60,271.10Z" fill="none" stroke="#009E73" stroke-width="1.7"/><circle cx="442.60" cy="266.30" r="0.65" fill="#009E73"/>
<path d="M438.44,264.50L446.76,264.50L442.60,271.70Z" fill="none" stroke="#009E73" stroke-width="1.7"/><circle cx="442.60" cy="266.90" r="0.65" fill="#009E73"/>
<path d="M443.64,256.20L451.96,256.20L447.80,263.40Z" fill="none" stroke="#009E73" stroke-width="1.7"/><circle cx="447.80" cy="258.60" r="0.65" fill="#009E73"/>
<path d="M443.64,256.80L451.96,256.80L447.80,264.00Z" fill="none" stroke="#009E73" stroke-width="1.7"/><circle cx="447.80" cy="259.20" r="0.65" fill="#009E73"/>
<path d="M447.44,255.80L455.76,255.80L451.60,263.00Z" fill="none" stroke="#009E73" stroke-width="1.7"/><circle cx="451.60" cy="258.20" r="0.65" fill="#009E73"/>
<path d="M447.44,256.30L455.76,256.30L451.60,263.50Z" fill="none" stroke="#009E73" stroke-width="1.7"/><circle cx="451.60" cy="258.70" r="0.65" fill="#009E73"/>
<path d="M482.24,216.50L490.56,216.50L486.40,223.70Z" fill="none" stroke="#009E73" stroke-width="1.7"/><circle cx="486.40" cy="218.90" r="0.65" fill="#009E73"/>
<path d="M482.24,217.20L490.56,217.20L486.40,224.40Z" fill="none" stroke="#009E73" stroke-width="1.7"/><circle cx="486.40" cy="219.60" r="0.65" fill="#009E73"/>
<path d="M482.24,221.90L490.56,221.90L486.40,229.10Z" fill="none" stroke="#009E73" stroke-width="1.7"/><circle cx="486.40" cy="224.30" r="0.65" fill="#009E73"/>
<path d="M482.24,222.60L490.56,222.60L486.40,229.80Z" fill="none" stroke="#009E73" stroke-width="1.7"/><circle cx="486.40" cy="225.00" r="0.65" fill="#009E73"/>
<rect x="83.9" y="23.5" width="881.0" height="613.8" fill="none" stroke="#000" stroke-width="1.5"/>
</svg>
</body></html>
